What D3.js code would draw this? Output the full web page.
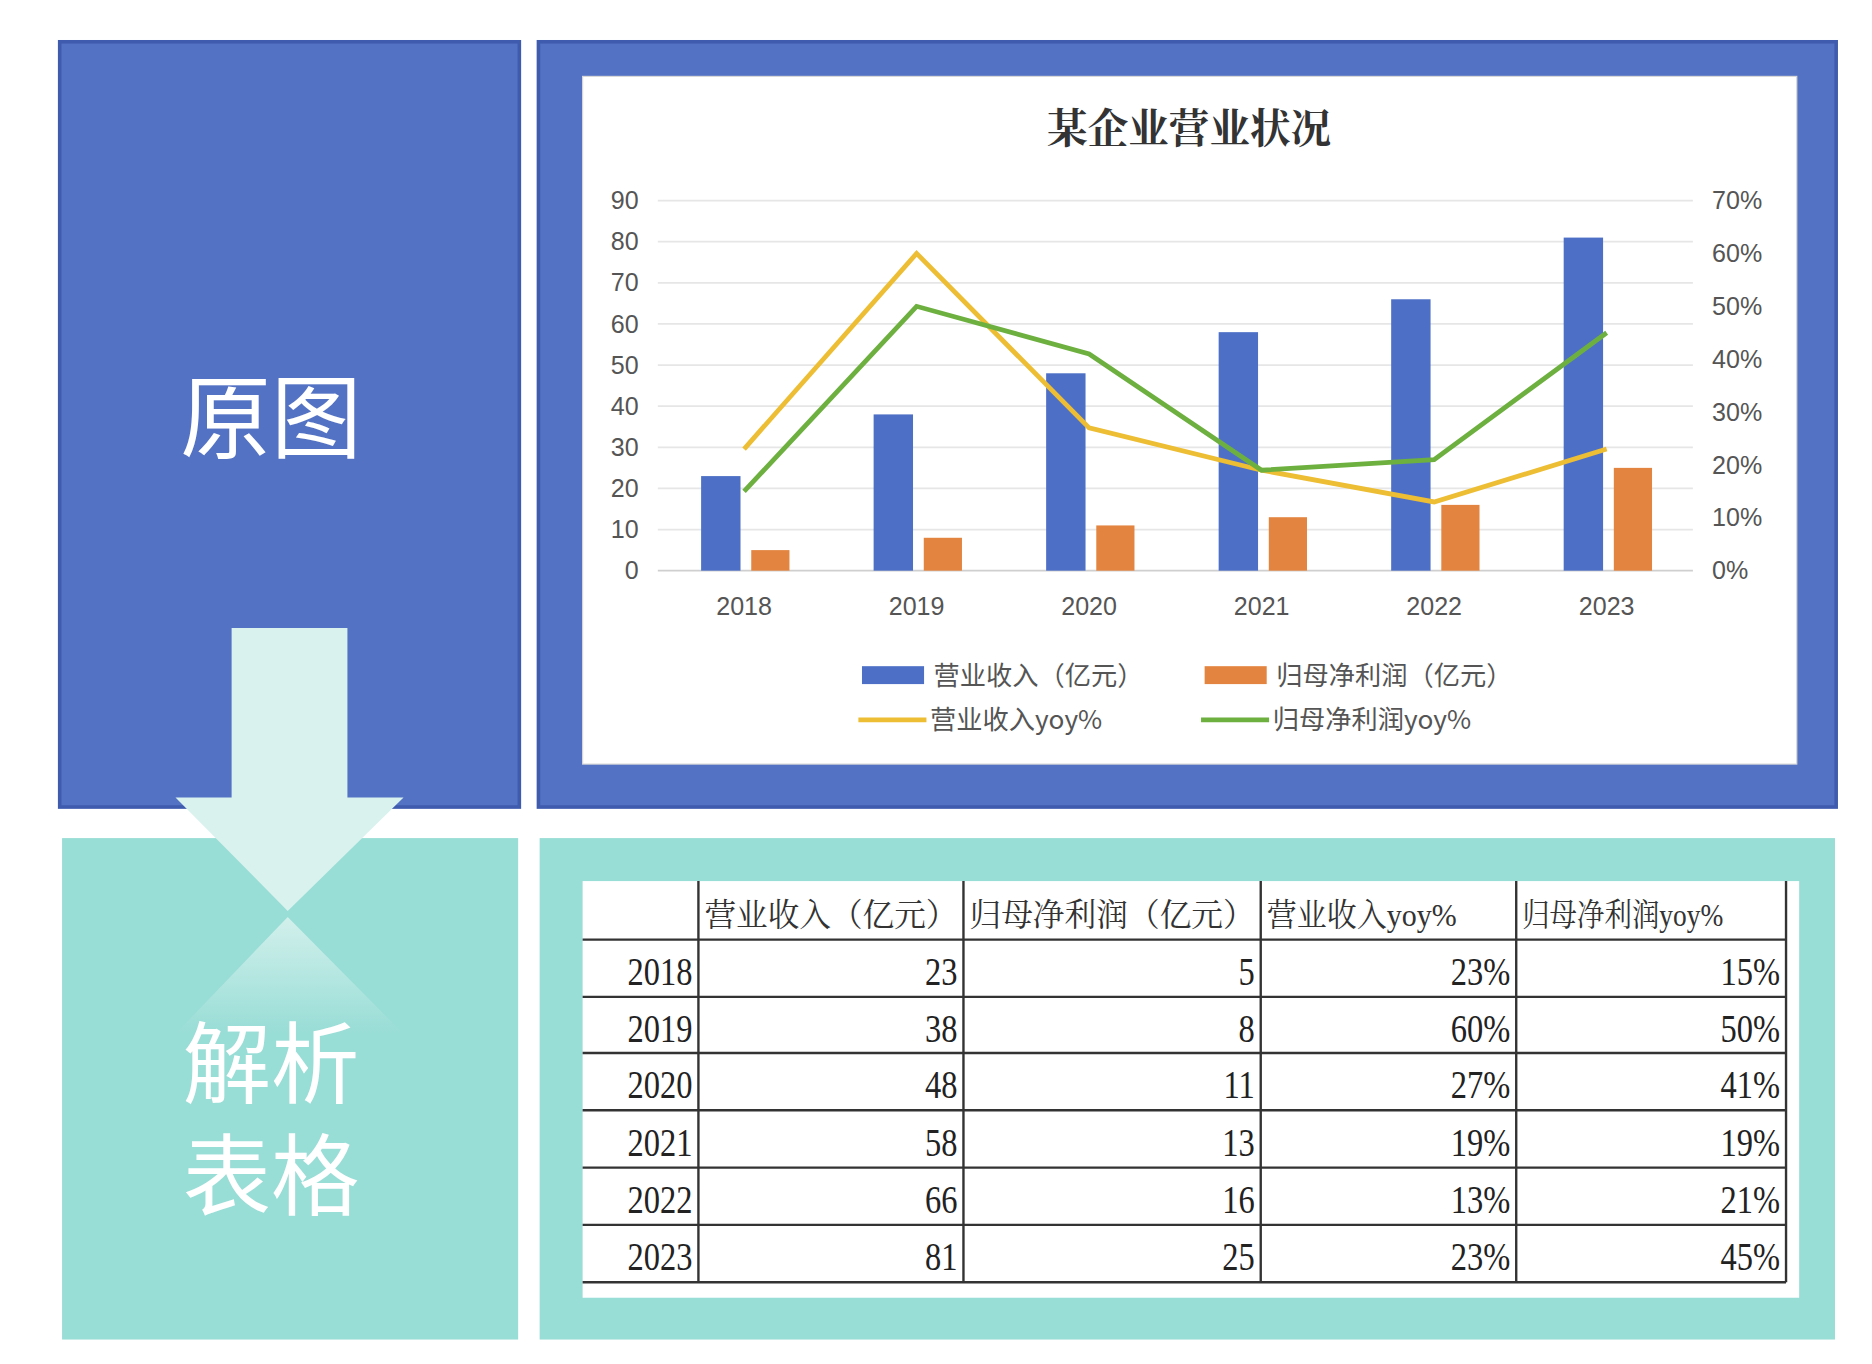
<!DOCTYPE html>
<html><head><meta charset="utf-8">
<script src="https://cdn.jsdelivr.net/npm/d3@7"></script>
<style>body{margin:0;background:#fff}svg{display:block}</style>
</head><body>
<svg id="c" width="1872" height="1364" viewBox="0 0 1568 1142.5"></svg>
<script>
// data
const years = ["2018", "2019", "2020", "2021", "2022", "2023"];
const revenue = [23, 38, 48, 58, 66, 81];
const profit = [5, 8, 11, 13, 16, 25];
const revYoy = [0.23, 0.60, 0.27, 0.19, 0.13, 0.23];
const profitYoy = [0.15, 0.50, 0.41, 0.19, 0.21, 0.45];
const leftTicks = [0, 10, 20, 30, 40, 50, 60, 70, 80, 90];
const rightTicks = [0, 0.1, 0.2, 0.3, 0.4, 0.5, 0.6, 0.7];
const headers = ["", "营业收入（亿元）", "归母净利润（亿元）", "营业收入yoy%", "归母净利润yoy%"];

const BLUE = "#4D70C6", ORANGE = "#E38540", YELLOW = "#EDBD34", GREEN = "#6DB040";
const svg = d3.select("#c");
const cjk = "'Noto Sans CJK SC', sans-serif";
const serif = "'Liberation Serif', 'Noto Serif CJK SC', 'Noto Sans CJK SC', serif";

/* panels */
svg.append("rect").attr("x", 50).attr("y", 35).attr("width", 385).attr("height", 641)
  .attr("fill", "#5472C4").attr("stroke", "#3F5BAE").attr("stroke-width", 3);
svg.append("rect").attr("x", 451).attr("y", 35).attr("width", 1087).attr("height", 641)
  .attr("fill", "#5472C4").attr("stroke", "#3F5BAE").attr("stroke-width", 3);
svg.append("rect").attr("x", 488).attr("y", 64).attr("width", 1017).attr("height", 576)
  .attr("fill", "#fff").attr("stroke", "#d8d8d8");
svg.append("rect").attr("x", 52).attr("y", 702).attr("width", 382).attr("height", 420).attr("fill", "#98DDD6");
svg.append("rect").attr("x", 452).attr("y", 702).attr("width", 1085).attr("height", 420).attr("fill", "#98DDD6");
svg.append("rect").attr("x", 488).attr("y", 738).attr("width", 1019).attr("height", 349).attr("fill", "#fff");

/* arrow */
const defs = svg.append("defs");
const g1 = defs.append("linearGradient").attr("id", "fade").attr("x1", 0).attr("y1", 0).attr("x2", 0).attr("y2", 1);
g1.append("stop").attr("offset", 0).attr("stop-color", "#D9F2EE").attr("stop-opacity", 0.9);
g1.append("stop").attr("offset", 1).attr("stop-color", "#D9F2EE").attr("stop-opacity", 0);
svg.append("path").attr("d", "M194,526H291V668H338L241,763L147,668H194Z").attr("fill", "#D9F2EE");
svg.append("path").attr("d", "M241,768L338,866H147Z").attr("fill", "url(#fade)");

svg.append("text").attr("x", 227).attr("y", 378).attr("text-anchor", "middle").attr("fill", "#fff")
  .attr("font-family", cjk).attr("font-size", 76).text("原图");
svg.append("text").attr("x", 227).attr("y", 918).attr("text-anchor", "middle").attr("fill", "#fff")
  .attr("font-family", cjk).attr("font-size", 74).text("解析");
svg.append("text").attr("x", 227).attr("y", 1012).attr("text-anchor", "middle").attr("fill", "#fff")
  .attr("font-family", cjk).attr("font-size", 74).text("表格");

/* chart */
const x = d3.scaleBand().domain(years).range([551, 1418]);
const yL = d3.scaleLinear().domain([0, 90]).range([478, 168]);
const yR = d3.scaleLinear().domain([0, 0.7]).range([478, 168]);
const chart = svg.append("g");

chart.append("text").attr("x", 996).attr("y", 120).attr("text-anchor", "middle")
  .attr("font-family", serif).attr("font-weight", "bold").attr("font-size", 34).attr("fill", "#333").text("某企业营业状况");

chart.selectAll(".grid").data(leftTicks).join("line")
  .attr("x1", 551).attr("x2", 1418).attr("y1", d => yL(d)).attr("y2", d => yL(d))
  .attr("stroke", d => d === 0 ? "#cfcfcf" : "#e6e6e6").attr("stroke-width", 1.5);

const axL = chart.append("g").attr("transform", "translate(545,0)")
  .call(d3.axisLeft(yL).tickValues(leftTicks).tickSize(0).tickPadding(0));
const axR = chart.append("g").attr("transform", "translate(1434,0)")
  .call(d3.axisRight(yR).tickValues(rightTicks).tickSize(0).tickPadding(0).tickFormat(d3.format(".0%")));
const axX = chart.append("g").attr("transform", "translate(0,478)")
  .call(d3.axisBottom(x).tickSize(0).tickPadding(22));
[axL, axR, axX].forEach(a => {
  a.select(".domain").remove();
  a.selectAll("text").attr("font-family", "'Liberation Sans', Arial, sans-serif").attr("font-size", 21).attr("fill", "#555");
});
axL.selectAll("text").attr("dx", -10);

const cx = d => x(d) + x.bandwidth() / 2;
chart.selectAll(".rev").data(years).join("rect")
  .attr("x", (d) => cx(d) - 36).attr("width", 33)
  .attr("y", (d, i) => yL(revenue[i])).attr("height", (d, i) => yL(0) - yL(revenue[i])).attr("fill", BLUE);
chart.selectAll(".pro").data(years).join("rect")
  .attr("x", (d) => cx(d) + 6).attr("width", 32)
  .attr("y", (d, i) => yL(profit[i])).attr("height", (d, i) => yL(0) - yL(profit[i])).attr("fill", ORANGE);

const line = d3.line().x((d, i) => cx(years[i])).y(d => yR(d));
chart.append("path").attr("d", line(revYoy)).attr("fill", "none").attr("stroke", YELLOW).attr("stroke-width", 4);
chart.append("path").attr("d", line(profitYoy)).attr("fill", "none").attr("stroke", GREEN).attr("stroke-width", 4);

const legend = [
  { label: "营业收入（亿元）", color: BLUE, type: "bar", x: 722, y: 566 },
  { label: "归母净利润（亿元）", color: ORANGE, type: "bar", x: 1009, y: 566 },
  { label: "营业收入yoy%", color: YELLOW, type: "line", x: 719, y: 603 },
  { label: "归母净利润yoy%", color: GREEN, type: "line", x: 1006, y: 603 },
];
legend.forEach(l => {
  if (l.type === "bar") chart.append("rect").attr("x", l.x).attr("y", l.y - 8).attr("width", 52).attr("height", 15).attr("fill", l.color);
  else chart.append("line").attr("x1", l.x).attr("x2", l.x + 57).attr("y1", l.y).attr("y2", l.y).attr("stroke", l.color).attr("stroke-width", 4);
  chart.append("text").attr("x", l.x + 60).attr("y", l.y + 8).attr("font-family", cjk).attr("font-size", 22).attr("fill", "#555").text(l.label);
});

/* table */
const colX = [488, 585, 807, 1056, 1270, 1496];
const rowY = [738, 787, 835, 882, 930, 978, 1026, 1074];
const rows = years.map((y, i) => [y, revenue[i], profit[i], Math.round(revYoy[i] * 100) + "%", Math.round(profitYoy[i] * 100) + "%"]);
const tbl = svg.append("g");
rowY.slice(1).forEach(y => tbl.append("line").attr("x1", 488).attr("x2", 1496).attr("y1", y).attr("y2", y).attr("stroke", "#333").attr("stroke-width", 2));
colX.slice(1).forEach(xv => tbl.append("line").attr("x1", xv).attr("x2", xv).attr("y1", 738).attr("y2", 1074).attr("stroke", "#333").attr("stroke-width", 2));
headers.forEach((h, j) => {
  tbl.append("text").attr("x", colX[j] + 5).attr("y", 776).attr("font-family", serif).attr("font-size", 27)
    .attr("fill", "#333").attr("textLength", h ? (colX[j + 1] - colX[j] - 10) * (j >= 3 ? 0.78 : 1) : null)
    .attr("lengthAdjust", "spacingAndGlyphs").text(h);
});
rows.forEach((r, i) => {
  r.forEach((v, j) => {
    tbl.append("text").attr("x", colX[j + 1] - 5).attr("y", rowY[i + 1] + 38).attr("text-anchor", "end")
      .attr("font-family", serif).attr("font-size", 34).attr("fill", "#222")
      .attr("transform", `translate(${colX[j + 1] - 5},0) scale(0.8,1) translate(${-(colX[j + 1] - 5)},0)`)
      .text(v);
  });
});
</script>
</body></html>
